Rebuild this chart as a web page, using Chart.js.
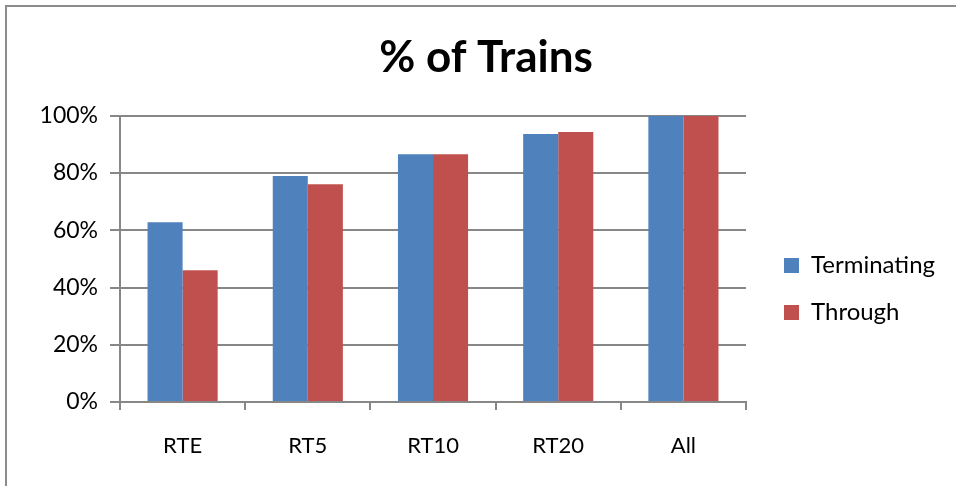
<!DOCTYPE html>
<html><head><meta charset="utf-8">
<script src="https://cdn.jsdelivr.net/npm/chart.js@4"></script>
<style>
html,body{margin:0;padding:0;background:#fff;overflow:hidden;}
#wrap{position:relative;width:956px;height:486px;}
#frame{position:absolute;left:5px;top:5px;width:990px;height:520px;border-top:2px solid #8c8c8c;border-left:2px solid #8c8c8c;box-sizing:border-box;pointer-events:none;}
canvas{position:absolute;left:0;top:0;}
</style></head><body>
<div id="wrap"><canvas id="c" width="956" height="486"></canvas><div id="frame"></div></div>
<script>
const categories = ['RTE', 'RT5', 'RT10', 'RT20', 'All'];
const terminating = [62.8, 79.0, 86.6, 93.6, 100];
const through = [46.0, 76.1, 86.6, 94.3, 100];
const seriesNames = ['Terminating', 'Through'];
const yTickStep = 20;
const yMax = 100;

const FONT = 'Lato, "Open Sans", sans-serif';
const GRID = '#878787';

const layoutTweak = {
  id: 'layoutTweak',
  afterLayout(chart) {
    const l = chart.legend;
    if (l) {
      const w = l.right - l.left;
      l.left = chart.chartArea.right + 15; l.right = l.left + w;
      l.top += 46; l.bottom += 46;
    }
    const t = chart.titleBlock;
    if (t) { t.left += 42; }
  }
};

new Chart(document.getElementById('c'), {
  type: 'bar',
  data: {
    labels: categories,
    datasets: [
      { label: seriesNames[0], data: terminating, backgroundColor: '#4F81BD' },
      { label: seriesNames[1], data: through, backgroundColor: '#C0504D' }
    ]
  },
  options: {
    responsive: false,
    animation: false,
    devicePixelRatio: 1,
    layout: { padding: { left: 0, right: 26, top: 0, bottom: 0 } },
    datasets: { bar: { categoryPercentage: 0.56, barPercentage: 1.0, borderWidth: 0 } },
    plugins: {
      title: {
        display: true,
        text: '% of Trains',
        color: '#000',
        font: { family: FONT, size: 44, weight: 'bold' },
        padding: { top: 31, bottom: 32 }
      },
      legend: {
        display: true,
        position: 'right',
        labels: {
          color: '#000',
          font: { family: FONT, size: 24 },
          boxWidth: 15,
          boxHeight: 15,
          padding: 23
        }
      },
      tooltip: { enabled: false }
    },
    scales: {
      x: {
        afterFit(s) { s.height = 84; },
        grid: { display: true, drawOnChartArea: false, drawTicks: true, tickLength: 8, color: GRID, lineWidth: 2, offset: true },
        border: { display: true, color: GRID, width: 2 },
        ticks: { color: '#000', font: { family: FONT, size: 22 }, padding: 23, maxRotation: 0 }
      },
      y: {
        min: 0,
        max: yMax,
        afterFit(s) { s.width = 120; },
        grid: { color: GRID, lineWidth: 2, drawTicks: true, tickLength: 10 },
        border: { display: true, color: GRID, width: 2 },
        ticks: {
          stepSize: yTickStep,
          color: '#000',
          font: { family: FONT, size: 23 },
          padding: 12,
          callback: v => v + '%'
        }
      }
    }
  },
  plugins: [layoutTweak]
});
</script>
</body></html>
